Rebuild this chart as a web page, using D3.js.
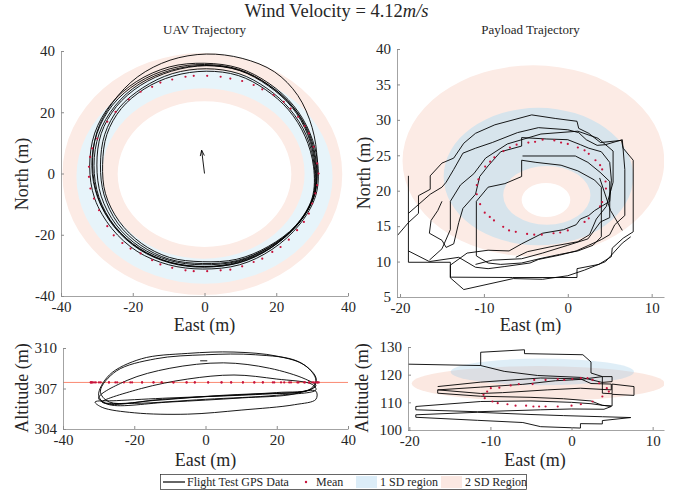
<!DOCTYPE html>
<html>
<head>
<meta charset="utf-8">
<script src="https://cdn.jsdelivr.net/npm/d3@7"></script>
<style>
body { margin: 0; background: #fff; }
text { fill: #262626; }
</style>
</head>
<body>
<svg id="chart" width="673" height="491" font-family="Liberation Serif, Times New Roman, serif"></svg>
<script>
// ---- data ----
const uavTicksX = [-40, -20, 0, 20, 40];
const uavTicksN = [-40, -20, 0, 20, 40];
const uavTicksAlt = [304, 307, 310];
const payTicksX = [-20, -10, 0, 10];
const payTicksN = [5, 10, 15, 20, 25, 30, 35, 40];
const payTicksAlt = [100, 110, 120, 130];

// ellipses: [centreEast, centreNorth/Alt, radiusEast, radiusNorth/Alt]
const uavSd2 = [[-0.6, -0.2, 39, 39.5], [0, -0.2, 24.2, 23.8]];
const uavSd1 = [[0, -1.1, 35.7, 34.9], [-0.3, 0, 28.2, 27.8]];
const paySd2 = [[-4.1, 24.2, 15.6, 13.5], [-2.6, 18.7, 2.9, 2.4]];
const paySd1 = [[-3.5, 22, 11.3, 9.7], [-2.5, 19.35, 5.2, 4.15]];
const payAltSd2 = [[-4.1, 116.8, 15.6, 6.3]];
const payAltSd1 = [[-3.6, 121, 11.3, 4.8]];

const windArrow = [[0, 0], [-0.8, 7.6]];

const uavLoops = [
  [[0.5,39],[10.5,37.6],[19.5,33.2],[26,25.5],[30,15],[31.4,4],[30.6,-7],[26,-16.6],[18.4,-24.2],[9.6,-28.8],[0,-30.4],[-9.6,-29],[-18.2,-24.6],[-25,-17.4],[-29.6,-8],[-31.2,2.4],[-30,13.5],[-25.6,23.2],[-18.6,31.6],[-9.6,37]],
  [[0,35.6],[9.5,34],[17.8,29],[24.5,22],[29.2,13],[31.2,2.8],[30.6,-7.2],[26,-16.6],[18.6,-24.2],[9.8,-29],[0,-30.6],[-9.6,-29.2],[-18.2,-24.8],[-25.2,-17.4],[-29.8,-7.8],[-31.4,2.6],[-30,13],[-25.6,22.4],[-18.6,29.6],[-9.6,34.2]],
  [[0.5,35.2],[9.8,33.6],[17.8,28.6],[24.4,21.6],[28.8,12.6],[30.8,2.6],[30.4,-7.6],[25.8,-16.8],[18.2,-24],[9.4,-28.6],[-0.5,-29.8],[-9.8,-28.4],[-18,-24],[-24.6,-16.8],[-28.8,-7.4],[-30,2.8],[-28.8,13],[-24.6,21.8],[-17.8,28.8],[-9.2,33.4]],
  [[0.5,34.2],[9.6,32.6],[17.4,27.8],[23.8,21],[28.4,12.4],[30.6,2.4],[30.2,-7.8],[25.6,-17],[18,-24],[9.2,-28.4],[-0.5,-29.4],[-9.8,-28],[-17.8,-23.4],[-24.2,-16.2],[-28,-7],[-29,2.8],[-27.8,12.8],[-23.8,21.4],[-17.2,28],[-9,32.6]],
  [[0,36],[9.6,34.4],[18,29.4],[24.8,22.2],[29.4,13.2],[31.6,3],[31,-7.2],[26.4,-16.8],[18.8,-24.8],[9.8,-29.8],[-0.5,-31.2],[-10,-29.8],[-18.8,-25.4],[-25.8,-18],[-30.6,-8.2],[-32,2.4],[-30.6,13.2],[-26,22.8],[-19,30],[-9.8,34.8]],
  [[0.5,33.4],[9.4,32],[17,27.4],[23.4,20.8],[28,12.2],[30.4,2.2],[30,-8],[25.4,-17],[17.8,-23.8],[9,-28],[-0.6,-28.8],[-9.8,-27.4],[-17.6,-22.8],[-23.8,-15.6],[-27.6,-6.6],[-28.4,3],[-27.2,12.8],[-23.2,21.2],[-16.8,27.6],[-8.8,31.8]],
  [[0,35.3],[9.6,33.8],[17.8,28.9],[24.5,21.9],[29,12.8],[31,2.7],[30.5,-7.4],[25.8,-16.6],[18.4,-24.4],[9.6,-29.2],[0,-30.4],[-9.6,-29],[-18.2,-24.4],[-25,-17.2],[-29.4,-7.8],[-30.8,2.6],[-29.4,12.9],[-25,22],[-18.2,29.2],[-9.4,33.7]]
];

const uavMean = [[0.75,31.9],[4.5,31.6],[7.2,31.0],[10.5,30.2],[13.7,28.9],[16.1,27.5],[19.3,25.6],[22.1,23.4],[24.0,21.2],[26.1,18.5],[27.9,15.5],[29.1,13.1],[30.4,8.7],[31.4,3.3],[31.8,0],[31.4,-3.8],[30.9,-6.5],[30.0,-9.8],[29.1,-13.1],[27.7,-15.8],[25.8,-18.5],[23.5,-21.6],[21.2,-24.0],[18.9,-25.6],[16.1,-27.8],[13.7,-28.9],[10.5,-30.3],[7.2,-31.4],[4.5,-31.6],[0.75,-31.9],[-3.0,-31.9],[-5.3,-31.6],[-9.0,-30.8],[-12.3,-29.7],[-14.6,-28.3],[-17.8,-26.1],[-20.6,-24.5],[-22.9,-22.7],[-25.3,-20.2],[-27.1,-17.2],[-29.4,-12.0],[-30.8,-8.2],[-31.8,-4.9],[-32.2,-1.1],[-32.2,2.2],[-31.9,5.4],[-31.3,8.2],[-29.9,11.4],[-27.1,16.9],[-24.8,20.1],[-21.1,24.2],[-17.8,26.7],[-14.6,28.3],[-12.3,29.7],[-9.0,30.7],[-5.3,31.6],[-3.0,31.9]];
const uavMeanAlt = 307.45;

const uavAltLoops = [
  [[-30,306.5],[-27,308.0],[-18,309.2],[-5,309.6],[8,309.7],[20,309.4],[28,308.7],[31,307.6],[29,306.9],[15,306.6],[0,306.4],[-15,306.1],[-28,305.9]],
  [[-29.5,306.8],[-25,308.3],[-14,309.2],[0,309.5],[14,309.5],[26,309.0],[31,307.8],[30,307.0],[20,306.7],[5,306.5],[-12,306.2],[-27,306.0]],
  [[-30,306.3],[-22,307.6],[-10,308.5],[5,308.9],[18,308.5],[28,307.7],[31,307.2],[25,306.6],[10,306.3],[-10,306.0],[-27,305.8]],
  [[-29,306.0],[-18,307.0],[-5,307.7],[8,308.0],[20,307.7],[30,307.3],[31,306.9],[20,306.5],[0,306.2],[-20,305.9]],
  [[-31,306.0],[-29,305.6],[-20,305.2],[-5,305.1],[10,305.4],[25,305.8],[31,306.2],[31,306.8],[25,306.7],[10,306.5],[-10,306.3],[-25,306.1]]
];
const uavAltDash = [[-1.5,309.05],[0.5,309.05]];

const payTracks = [
  [[-20.3,13.7],[-19,15.5],[-17.8,16.8],[-17.8,19.3],[-16.4,20.2],[-16.4,22.1],[-15,23.9],[-13.6,24.6],[-12.4,26.7],[-11,28.1],[-8.7,29.3],[-4.3,30.7],[-1.5,30.2],[1.1,29.8],[1.3,28.8],[2.5,28.1],[3.9,26.8],[6.4,27.1],[6.6,26.0],[7.8,24.3],[7.8,14.2],[6.6,13.3],[5.3,11.9],[5.2,10.7],[3.7,9.6],[1.1,9.0],[1.1,7.75],[-6.6,7.75],[-14,7.8],[-14,9.9],[-19,9.9],[-19,22.1]],
  [[-19,16.8],[-16.4,19.5],[-15,20.5],[-14.5,21.2],[-13.6,23],[-12.5,25.3],[-11,26],[-9,26.8],[-6,28.2],[-3.5,28.9],[0,28.6],[1.3,28.2],[2.2,27.2],[3.5,26.4],[4.5,26.5],[6.5,27.2],[6.8,23],[6.8,16.5],[5.6,15.2],[5,13.8],[4,13.1],[2.5,12.3],[1,11.5],[-1,10.9],[-3.5,10.3],[-4.5,9.8],[-7.5,9.3],[-9.5,9.0],[-11,9.2],[-13,10.6],[-16.5,10],[-19,11.5]],
  [[-15,18.5],[-15.5,17.2],[-16.3,15.8],[-16.5,14],[-15,13],[-14.5,12],[-13.6,12.5],[-13,15.5],[-12.5,17.5],[-11,19.5],[-10.5,22],[-9.5,23.5],[-8,25.5],[-5.5,26.3],[-5.5,27.5],[-2.5,27.3],[0,27.2],[1.5,26.5],[2.5,26.0],[4,25.5],[5,24],[5.2,21.5],[5,18.5],[3.2,17.2],[2.5,16.5],[1.5,16],[1,15.2],[-0.5,14.5],[-3,14],[-5.5,12.5],[-7,11.5],[-9.5,11.6],[-12,11.2],[-14,9.5],[-14,7.7]],
  [[-10.9,18.5],[-10.9,10.8],[-9.5,9.8],[-8,9.6],[-5.5,9.8],[-3,10.5],[-1,11],[1.2,11.5],[3,12.3],[4,13.5],[4,20.5],[3.2,21.5],[1.2,22.8],[-0.8,23.6],[-3.8,24],[-5.5,24.3],[-5.5,22],[-7.5,21],[-9.5,20.5],[-10.9,18.5]],
  [[-14,7.7],[-12.4,6.05],[-6.5,7.6],[-3,7.5],[0,8],[2,8.8],[4.5,10],[6.5,12.6],[7.5,13.5]],
  [[-16.5,10.2],[-15,11.8],[-14,14.5],[-14,18.5],[-12.8,20.8],[-11.2,22.4],[-9.8,24.6],[-7.2,26.6],[-3.2,28],[1.2,28.4],[3.6,27.4],[5.4,25.6],[5.4,21.2],[4.6,17.8],[3.4,16],[2.6,13.8],[1.2,12.8],[-1.6,12.2],[-4.8,11.4],[-6.2,10.6]],
  [[-5.4,24.9],[0.9,24.9],[2.4,24],[3.85,22.6],[5,21.3],[5,16.2],[3.9,15.6],[2.4,13.2],[0,12.3],[-3,11.2],[-5.5,10.4],[-9,10.2],[-11,9.6]],
  [[3.8,21.8],[5.1,17.2],[6.5,14.4]]
];

const payMean = [[-10.85,20.8],[-10.85,19.5],[-10.45,18.1],[-9.9,16.9],[-9.3,16.3],[-8.8,15.8],[-7.7,14.9],[-7.0,14.4],[-6.2,14.2],[-4.85,13.9],[-4.0,13.8],[-3.1,13.8],[-1.7,14.0],[-0.9,14.1],[0,14.4],[2.0,15.6],[2.5,16.1],[3.85,17.8],[4.1,18.4],[4.55,20.3],[4.5,21.3],[4.1,23.0],[3.85,23.6],[3.3,24.3],[2.5,25.2],[2.0,25.7],[1.2,26.1],[0,26.6],[-0.8,26.8],[-1.6,27.1],[-3.0,27.2],[-3.9,26.9],[-4.7,26.8],[-6.1,26.5],[-6.9,26.1],[-7.67,25.6],[-8.75,24.7],[-9.26,24.1],[-9.85,23.4],[-10.65,21.6]];

const payAltTracks = [
  [[-20.3,123.8],[-11.2,123.3],[-11.2,128.1],[-5.8,129.0],[-5.8,127.6],[1.4,127.2],[2.4,124.6],[2.4,120.6],[3.8,119.3],[5.0,119.3],[5.0,117.5],[3.8,117.2],[1.2,119.0],[-4.2,119.7],[-8.3,121.2],[-11.2,123.3]],
  [[3.8,119.3],[3.8,113.3],[5.0,113.1],[5.0,116.6],[7.7,115.7],[7.7,112.5],[5.0,112.9],[5.0,108.7],[3.8,108.9],[2.4,110.5],[-1,111.3],[-5,111.8],[-11.2,112.2],[-16.5,113.3],[-16.5,114.5],[-11.2,115.5],[-6,116.5],[-2,117.8],[1.2,118.3],[3.8,119.3]],
  [[-16.5,115.7],[-11.2,117.3],[-3.8,118.8],[1.1,118.5],[2.4,116.8],[4.9,116.6],[4.9,114.5],[1.1,115.1],[-3,114.5],[-8.5,113.5],[-11.2,113.2],[-16.5,114.5]],
  [[-19.2,108.5],[-11.2,110.3],[-5,110.5],[0,110.0],[2.4,109.5],[4.9,108.5],[4,107.5],[0,107.6],[-3.8,107.3],[-11.6,106.6],[-19.2,107.3],[-19.2,108.5]],
  [[-19.2,105.5],[-11.6,106.4],[-5,105.6],[-1,105.2],[3.8,104.8],[7.3,104.5],[3.8,103.4],[3.8,102.2],[1.1,102.3],[1.1,100.7],[-3.8,101.2],[-6,102.7],[-11.6,103.5],[-19.2,104.6],[-19.2,105.5]]
];

const payAltMean = [[-10.85,112.7],[-10.7,111.5],[-10.4,113.9],[-9.95,115.1],[-9.75,110.3],[-9.1,109.7],[-8.9,115.3],[-7.9,109.3],[-7.5,116.1],[-6.9,108.8],[-6.5,116.6],[-5.6,108.8],[-4.8,116.6],[-4.7,108.5],[-4.6,118.1],[-3.2,118.1],[-1.7,118.4],[-0.9,118.1],[0.1,118.4],[1.15,118.75],[1.97,118.75],[2.6,118.1],[3.4,116.9],[4.35,115.1],[4.6,113.9],[3.8,112.1],[2.6,110.3],[1.15,109.3],[0,108.8],[-1.7,108.5],[-3.2,108.5],[-4.0,108.5]];

const legendItems = ["Flight Test GPS Data", "Mean", "1 SD region", "2 SD Region"];

// ---- drawing ----
const svg = d3.select("#chart");
const serif = "Liberation Serif, Times New Roman, serif";
const meanColor = "#c8143c";

function makePanel(o) {
  const x = d3.scaleLinear().domain(o.xd).range([o.x0, o.x1]);
  const y = d3.scaleLinear().domain(o.yd).range([o.y0, o.y1]);
  const g = svg.append("g").attr("id", o.id);
  g.append("clipPath").attr("id", o.id + "Clip").append("rect")
    .attr("x", o.x0).attr("y", o.y1)
    .attr("width", o.x1 - o.x0).attr("height", o.y0 - o.y1);
  const plot = g.append("g").attr("clip-path", "url(#" + o.id + "Clip)");
  const ax = g.append("g").attr("transform", "translate(0," + o.y0 + ")")
    .call(d3.axisBottom(x).tickValues(o.xt).tickFormat(d => String(d))
      .tickSizeInner(-3).tickSizeOuter(0).tickPadding(5));
  const ay = g.append("g").attr("transform", "translate(" + o.x0 + ",0)")
    .call(d3.axisLeft(y).tickValues(o.yt).tickFormat(d => String(d))
      .tickSizeInner(-3).tickSizeOuter(0).tickPadding(6));
  [ax, ay].forEach(a => {
    a.attr("font-family", serif).attr("font-size", 15);
    a.select(".domain").attr("stroke", "#8c8c8c").attr("stroke-width", 0.8);
    a.selectAll(".tick line").attr("stroke", "#8c8c8c");
    a.selectAll(".tick text").attr("fill", "#262626");
  });
  return { x, y, plot };
}

function ellipsePath(p, e) {
  const cx = p.x(e[0]), cy = p.y(e[1]);
  const rx = p.x(e[0] + e[2]) - cx, ry = cy - p.y(e[1] + e[3]);
  return "M" + (cx - rx) + "," + cy +
    "A" + rx + "," + ry + " 0 1 0 " + (cx + rx) + "," + cy +
    "A" + rx + "," + ry + " 0 1 0 " + (cx - rx) + "," + cy + "Z";
}

function region(p, rings, fill, opacity) {
  p.plot.append("path")
    .attr("d", rings.map(e => ellipsePath(p, e)).join(""))
    .attr("fill-rule", "evenodd")
    .attr("fill", fill)
    .attr("fill-opacity", opacity || 1);
}

function tracks(p, list, curve) {
  const line = d3.line().x(d => p.x(d[0])).y(d => p.y(d[1])).curve(curve);
  p.plot.selectAll(null).data(list).enter().append("path")
    .attr("d", line)
    .attr("fill", "none")
    .attr("stroke", "#000")
    .attr("stroke-width", 0.9)
    .attr("stroke-linejoin", "round");
}

function dots(p, list) {
  p.plot.selectAll(null).data(list).enter().append("circle")
    .attr("cx", d => p.x(d[0])).attr("cy", d => p.y(d[1]))
    .attr("r", 1.1).attr("fill", meanColor);
}

// top left: UAV plan view
const tl = makePanel({ id: "tl", x0: 61, x1: 348, y0: 296, y1: 51,
  xd: [-40, 40], yd: [-40, 40], xt: uavTicksX, yt: uavTicksN });
region(tl, uavSd2, "#fcebe5");
region(tl, uavSd1, "#e7f4fa");
tracks(tl, uavLoops, d3.curveCatmullRomClosed);
dots(tl, uavMean);
{
  const x1 = tl.x(windArrow[0][0]), y1 = tl.y(windArrow[0][1]);
  const x2 = tl.x(windArrow[1][0]), y2 = tl.y(windArrow[1][1]);
  const a = Math.atan2(y2 - y1, x2 - x1), h = 6, w = 0.35;
  const head = d3.path();
  head.moveTo(x1, y1); head.lineTo(x2, y2);
  head.moveTo(x2 - h * Math.cos(a - w), y2 - h * Math.sin(a - w));
  head.lineTo(x2, y2);
  head.lineTo(x2 - h * Math.cos(a + w), y2 - h * Math.sin(a + w));
  tl.plot.append("path").attr("d", head.toString())
    .attr("fill", "none").attr("stroke", "#000").attr("stroke-width", 0.9);
}

// top right: payload plan view
const tr = makePanel({ id: "tr", x0: 397, x1: 664, y0: 297, y1: 49,
  xd: [-20.36, 11.47], yd: [5, 40], xt: payTicksX, yt: payTicksN });
region(tr, paySd2, "#fcebe5");
region(tr, paySd1, "#d7e4ec");
tracks(tr, payTracks, d3.curveLinear);
dots(tr, payMean);

// bottom left: UAV altitude
const bl = makePanel({ id: "bl", x0: 63, x1: 348, y0: 429, y1: 348,
  xd: [-40, 40], yd: [304, 310], xt: uavTicksX, yt: uavTicksAlt });
bl.plot.append("line")
  .attr("x1", bl.x(-40)).attr("x2", bl.x(40))
  .attr("y1", bl.y(uavMeanAlt)).attr("y2", bl.y(uavMeanAlt))
  .attr("stroke", "#fa8a72").attr("stroke-width", 1);
tracks(bl, uavAltLoops, d3.curveCatmullRomClosed);
tracks(bl, [uavAltDash], d3.curveLinear);
dots(bl, uavMean.map(d => [d[0], uavMeanAlt]));

// bottom right: payload altitude
const br = makePanel({ id: "br", x0: 408, x1: 664, y0: 430, y1: 347,
  xd: [-20.16, 11.4], yd: [100, 130], xt: payTicksX, yt: payTicksAlt });
region(br, payAltSd2, "#fbe8e1");
region(br, payAltSd1, "#9fcbe8", 0.33);
tracks(br, payAltTracks, d3.curveLinear);
dots(br, payAltMean);

// titles and labels
const title = svg.append("text").attr("x", 336.5).attr("y", 17)
  .attr("text-anchor", "middle").attr("font-size", 18.5);
title.append("tspan").text("Wind Velocity = 4.12");
title.append("tspan").attr("font-style", "italic").text("m/s");

svg.append("text").attr("x", 204.5).attr("y", 34).attr("text-anchor", "middle")
  .attr("font-size", 13).text("UAV Trajectory");
svg.append("text").attr("x", 530.5).attr("y", 34).attr("text-anchor", "middle")
  .attr("font-size", 13).text("Payload Trajectory");

const xLabels = [[204.5, 331], [530.5, 331], [205.5, 466], [535, 466]];
svg.selectAll(null).data(xLabels).enter().append("text")
  .attr("x", d => d[0]).attr("y", d => d[1])
  .attr("text-anchor", "middle").attr("font-size", 18).text("East (m)");

const yLabels = [[28, 174, "North (m)"], [369.5, 173, "North (m)"],
  [28, 388, "Altitude (m)"], [368, 388, "Altitude (m)"]];
svg.selectAll(null).data(yLabels).enter().append("text")
  .attr("transform", d => "translate(" + d[0] + "," + d[1] + ") rotate(-90)")
  .attr("text-anchor", "middle").attr("font-size", 18).text(d => d[2]);

// legend
const lg = svg.append("g").attr("font-size", 12);
lg.append("rect").attr("x", 160.5).attr("y", 474.5).attr("width", 366).attr("height", 15)
  .attr("fill", "#fff").attr("stroke", "#262626").attr("stroke-width", 0.7);
lg.append("line").attr("x1", 163).attr("x2", 185).attr("y1", 482).attr("y2", 482)
  .attr("stroke", "#000").attr("stroke-width", 1.2);
lg.append("circle").attr("cx", 306).attr("cy", 482).attr("r", 1.2).attr("fill", meanColor);
lg.append("rect").attr("x", 356).attr("y", 476).attr("width", 21).attr("height", 12).attr("fill", "#dcedf8");
lg.append("rect").attr("x", 441).attr("y", 476).attr("width", 21).attr("height", 12).attr("fill", "#fbe8e2");
const lgX = [187, 316, 380, 465];
lg.selectAll("text.item").data(legendItems).enter().append("text")
  .attr("class", "item")
  .attr("x", (d, i) => lgX[i]).attr("y", 486).text(d => d);
</script>
</body>
</html>
